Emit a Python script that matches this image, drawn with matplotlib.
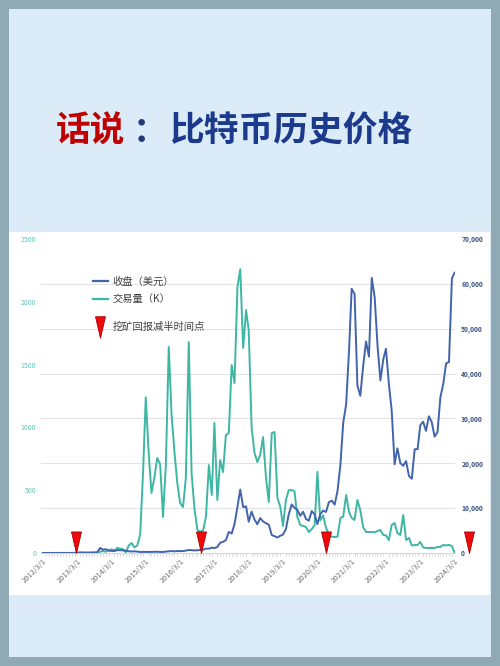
import numpy as np
import pandas as pd
import matplotlib
matplotlib.use("Agg")
import matplotlib.pyplot as plt
import matplotlib.dates as mdates
from matplotlib.patches import Rectangle
from matplotlib.lines import Line2D

plt.rcParams['font.family'] = ['Noto Sans CJK SC', 'DejaVu Sans']

# 月度数据：2012/3 ~ 2024/3
months = pd.date_range("2012-03-01", "2024-03-01", freq="MS")

close_usd = [
    4.9, 5.0, 5.2, 6.7, 9.4, 10.2, 12.4, 11.2, 12.6, 13.5,
    20.4, 33.4, 93, 139, 129, 97, 106, 135, 133, 198, 1129, 732,
    830, 550, 457, 448, 630, 640, 586, 478, 387, 338, 378, 320,
    217, 254, 244, 236, 230, 263, 284, 230, 236, 314, 377, 430,
    368, 437, 416, 448, 531, 673, 624, 575, 609, 701, 742, 964,
    970, 1190, 1080, 1348, 2286, 2480, 2875, 4703, 4338, 6468, 10233, 14156,
    10221, 10397, 6973, 9240, 7494, 6404, 7780, 7037, 6625, 6317, 4017, 3742,
    3457, 3854, 4105, 5350, 8574, 10817, 10085, 9630, 8293, 9199, 7569, 7193,
    9350, 8599, 6438, 8658, 9461, 9137, 11323, 11680, 10784, 13781, 19625, 29001,
    33114, 45137, 58918, 57750, 37332, 35040, 41626, 47166, 43790, 61318, 57005, 46306,
    38483, 43194, 45538, 37714, 31792, 19785, 23337, 20050, 19432, 20496, 17168, 16548,
    23139, 23147, 28478, 29268, 27220, 30477, 29230, 25940, 26968, 34668, 37712, 42265,
    42582, 61198, 62500,
]

volume_k = [
    0, 0, 0, 0, 0, 0, 0, 0, 0, 0, 0, 0, 0, 0, 0, 0, 0, 0, 0, 0,
    10, 15, 10, 20, 30, 20, 40, 35, 30, 5, 60, 80, 45, 60,
    150, 650, 1240, 800, 478, 600, 756, 708, 287, 700,
    1640, 1100, 800, 550, 398, 366, 600, 1680, 637, 350,
    183, 170, 180, 290, 700, 462, 1035, 422, 740, 645,
    939, 955, 1496, 1353, 2117, 2260, 1632, 1934, 1775, 1000,
    800, 724, 780, 923, 600, 406, 955, 963, 438, 366,
    215, 422, 500, 501, 493, 287, 223, 215, 207, 167,
    190, 223, 645, 260, 300, 200, 150, 130, 127, 130,
    279, 290, 462, 326, 279, 263, 422, 342, 207, 167,
    167, 167, 165, 175, 183, 143, 140, 103, 223, 239,
    159, 143, 302, 103, 120, 60, 64, 64, 88, 45,
    40, 40, 40, 40, 48, 48, 64, 60, 64, 56, 0,
]

# 挖矿回报减半时间点（按图上位置读取）
halving_dates = pd.to_datetime(["2013-02-15", "2016-10-07", "2020-06-01", "2024-08-01"])
halving_y = [0, 0, 0, 0]

tick_years = list(range(2012, 2025))
tick_labels = [f"{y}/3/1" for y in tick_years]

BLUE = '#4264ad'
TEAL = '#3db7a3'
RED = '#ee0a0a'

W, H = 500, 666
fig = plt.figure(figsize=(W / 100, H / 100), dpi=100)
fig.patch.set_facecolor('#8fa9b5')


def fx(px):
    return px / W


def fy(py):
    return 1 - py / H


# 浅蓝底板和白色图表区
fig.add_artist(Rectangle((fx(9), fy(657)), 482 / W, 648 / H, transform=fig.transFigure,
                         facecolor='#dcebf8', edgecolor='none', zorder=-3))
fig.add_artist(Rectangle((fx(9), fy(595)), 481 / W, 363 / H, transform=fig.transFigure,
                         facecolor='white', edgecolor='none', zorder=-2))

# 标题
title_kw = dict(fontsize=25, fontweight='heavy', va='center', family=['Noto Sans CJK SC'])
fig.text(fx(56), fy(131), "话说", color='#c00000', ha='left', **title_kw)
fig.text(fx(150), fy(131), "：", color='#1f3a7a', ha='center', **title_kw)
fig.text(fx(169), fy(131), "比特币历史价格", color='#1b3a8c', ha='left', **title_kw)

# 左轴：交易量
ax = fig.add_axes([fx(41), fy(553), 414 / W, 314 / H])
ax.set_facecolor('none')
ax.plot(months, volume_k, color=TEAL, lw=1.4, zorder=2)
ax.set_ylim(0, 2500)
ax.set_yticks(np.arange(0, 2501, 500))
ax.set_yticks(np.arange(8) * 2500 / 7, minor=True)
ax.grid(which='minor', axis='y', color='#e3e3e3', lw=0.8)
ax.tick_params(axis='y', which='both', length=0, labelsize=5, labelcolor='#62c6bd', pad=3.5)
ax.set_xlim(pd.Timestamp("2012-02-10"), pd.Timestamp("2024-03-05"))
ax.set_xticks([pd.Timestamp(f"{y}-03-01") for y in tick_years])
ax.set_xticklabels(tick_labels, rotation=45, ha='right', rotation_mode='anchor',
                   fontsize=5.4, color='#707070')
ax.xaxis.set_minor_locator(mdates.MonthLocator())
ax.tick_params(axis='x', which='major', length=0, pad=3)
ax.tick_params(axis='x', which='minor', length=2, color='#d0d0d0', width=0.6)
for side in ['top', 'left', 'right']:
    ax.spines[side].set_visible(False)
ax.spines['bottom'].set_color('#d9d9d9')
ax.spines['bottom'].set_linewidth(0.8)

# 右轴：收盘价
ax2 = ax.twinx()
ax2.plot(months, close_usd, color=BLUE, lw=1.4, zorder=3)
ax2.set_ylim(0, 70000)
ax2.set_yticks(np.arange(0, 70001, 10000))
ax2.set_yticklabels([f"{v:,}" for v in range(0, 70001, 10000)])
ax2.tick_params(axis='y', length=0, labelsize=4.9, labelcolor='#3d5485', pad=4.5)
for lab in ax2.get_yticklabels():
    lab.set_fontweight('bold')
for side in ['top', 'left', 'right', 'bottom']:
    ax2.spines[side].set_visible(False)

tip_marker = [(-0.46, 2), (0.46, 2), (0, 0), (-0.46, 2)]
ax2.plot(halving_dates, halving_y, linestyle='none', marker=tip_marker, markersize=31,
         markerfacecolor=RED, markeredgecolor='#a80000', markeredgewidth=0.6,
         clip_on=False, zorder=4)

# 图例：两条线 + 减半标记
leg_kw = dict(loc='upper left', frameon=False, fontsize=7.4, handlelength=1.5,
              handletextpad=0.4, borderaxespad=0, borderpad=0, labelcolor='#404040')
line_handles = [Line2D([], [], color=BLUE, lw=1.6), Line2D([], [], color=TEAL, lw=1.6)]
leg1 = ax2.legend(line_handles, ["收盘（美元）", "交易量（K）"],
                  bbox_to_anchor=(0.125, 0.88), labelspacing=0.72, **leg_kw)
ax2.add_artist(leg1)
tri_handle = Line2D([], [], linestyle='none',
                    marker=[(-0.46, 1), (0.46, 1), (0, -1), (-0.46, 1)],
                    markersize=15.5, markerfacecolor=RED, markeredgecolor='#a80000',
                    markeredgewidth=0.6)
ax2.legend([tri_handle], ["挖矿回报减半时间点"], bbox_to_anchor=(0.125, 0.735), **leg_kw)

fig.savefig("out.png", dpi=100, facecolor=fig.get_facecolor())
